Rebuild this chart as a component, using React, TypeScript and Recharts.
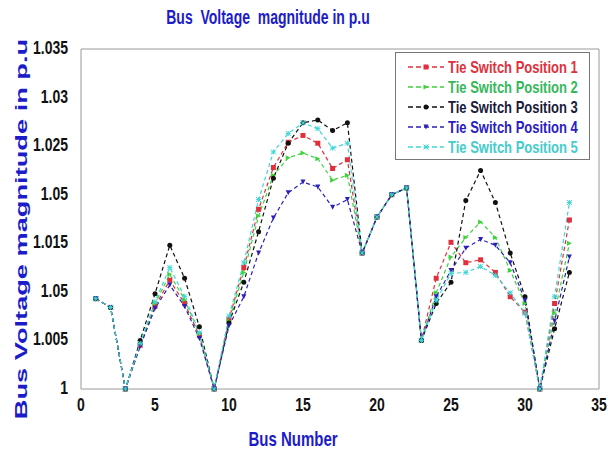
import { LineChart, Line, XAxis, YAxis, ReferenceArea } from 'recharts'

// bus numbers 1..33
const BUS = [
  1, 2, 3, 4, 5, 6, 7, 8, 9, 10, 11, 12, 13, 14, 15, 16, 17,
  18, 19, 20, 21, 22, 23, 24, 25, 26, 27, 28, 29, 30, 31, 32, 33,
]

const POS1 = [
  1.0093, 1.0084, 1.0, 1.0045, 1.0085, 1.0112, 1.0088, 1.0055, 1.0, 1.0072, 1.0125,
  1.0185, 1.0228, 1.0254, 1.0261, 1.0253, 1.0227, 1.0236, 1.014, 1.0177, 1.02, 1.0207,
  1.005, 1.0114, 1.0151, 1.013, 1.0133, 1.012, 1.0095, 1.0079, 1.0, 1.0088, 1.0174,
]
const POS2 = [
  1.0093, 1.0084, 1.0, 1.0046, 1.0088, 1.0118, 1.0092, 1.0057, 1.0, 1.007, 1.012,
  1.0178, 1.022, 1.0238, 1.0243, 1.0237, 1.0215, 1.022, 1.014, 1.0177, 1.02, 1.0207,
  1.005, 1.0099, 1.0136, 1.0156, 1.0172, 1.0156, 1.0122, 1.0088, 1.0, 1.0078, 1.015,
]
const POS3 = [
  1.0093, 1.0084, 1.0, 1.005, 1.0098, 1.0148, 1.0114, 1.0064, 1.0, 1.0068, 1.011,
  1.0162, 1.0217, 1.0253, 1.0274, 1.0277, 1.0266, 1.0274, 1.014, 1.0177, 1.02, 1.0207,
  1.005, 1.0088, 1.011, 1.0194, 1.0225, 1.0192, 1.014, 1.0095, 1.0, 1.0062, 1.012,
]
const POS4 = [
  1.0093, 1.0084, 1.0, 1.0044, 1.0083, 1.0107, 1.0085, 1.0052, 1.0, 1.0065, 1.0095,
  1.014, 1.0176, 1.0202, 1.0213, 1.0208, 1.0187, 1.0195, 1.014, 1.0177, 1.02, 1.0207,
  1.005, 1.0095, 1.0122, 1.0145, 1.0154, 1.0148, 1.013, 1.0091, 1.0, 1.007, 1.0136,
]
const POS5 = [
  1.0093, 1.0084, 1.0, 1.0047, 1.009, 1.0125, 1.0095, 1.0058, 1.0, 1.0075, 1.013,
  1.0195, 1.0244, 1.0263, 1.0274, 1.0268, 1.0248, 1.0253, 1.014, 1.0177, 1.02, 1.0207,
  1.005, 1.0091, 1.0119, 1.012, 1.0126, 1.0117, 1.0099, 1.0078, 1.0, 1.0095, 1.0192,
]

const X_TICKS = [0, 5, 10, 15, 20, 25, 30, 35]
const Y_TICKS = [1, 1.005, 1.01, 1.015, 1.02, 1.025, 1.03, 1.035]
// labels as printed on the original figure
const Y_TICK_LABELS = ['1', '1.005', '1.05', '1.015', '1.05', '1.025', '1.03', '1.035']

const SERIES = [
  { key: 'p1', name: 'Tie Switch Position 1', color: '#e0303c', text: '#e0303c', shape: 'square' },
  { key: 'p2', name: 'Tie Switch Position 2', color: '#3cd23c', text: '#34b85a', shape: 'right' },
  { key: 'p3', name: 'Tie Switch Position 3', color: '#111111', text: '#1a1a3a', shape: 'circle' },
  { key: 'p4', name: 'Tie Switch Position 4', color: '#2a20b8', text: '#2a20c0', shape: 'down' },
  { key: 'p5', name: 'Tie Switch Position 5', color: '#3ed6d6', text: '#44cccc', shape: 'star' },
]

const data = BUS.map((b, i) => ({
  bus: b,
  p1: POS1[i],
  p2: POS2[i],
  p3: POS3[i],
  p4: POS4[i],
  p5: POS5[i],
}))

const BLUE = '#1c1cc8'
const SANS = '"Liberation Sans", Arial, sans-serif'

function Marker({ cx, cy, shape, color }: { cx: number; cy: number; shape: string; color: string }) {
  const s = 2.5
  if (shape === 'square') return <rect x={cx - s} y={cy - s} width={s * 2} height={s * 2} fill={color} />
  if (shape === 'circle') return <circle cx={cx} cy={cy} r={s} fill={color} />
  if (shape === 'right')
    return <polygon points={`${cx - s},${cy - s} ${cx + s},${cy} ${cx - s},${cy + s}`} fill={color} />
  if (shape === 'down')
    return <polygon points={`${cx - s},${cy - s} ${cx + s},${cy - s} ${cx},${cy + s}`} fill={color} />
  return (
    <g stroke={color} strokeWidth={1}>
      <line x1={cx - s} y1={cy} x2={cx + s} y2={cy} />
      <line x1={cx} y1={cy - s} x2={cx} y2={cy + s} />
      <line x1={cx - s} y1={cy - s} x2={cx + s} y2={cy + s} />
      <line x1={cx - s} y1={cy + s} x2={cx + s} y2={cy - s} />
    </g>
  )
}

// tick text stretched vertically, like the source image
function XTick({ x, y, payload }: any) {
  return (
    <text transform={`translate(${x},${y + 14}) scale(1,1.35)`} textAnchor="middle" fill="#111"
      fontFamily={SANS} fontWeight="bold" fontSize={14}>
      {payload.value}
    </text>
  )
}

function YTick({ x, y, index }: any) {
  return (
    <text transform={`translate(${x - 5},${y + 5}) scale(1,1.35)`} textAnchor="end" fill="#111"
      fontFamily={SANS} fontWeight="bold" fontSize={14}>
      {Y_TICK_LABELS[index]}
    </text>
  )
}

function LegendBox() {
  return (
    <div
      style={{
        position: 'absolute',
        left: 395,
        top: 52,
        width: 195,
        height: 108,
        border: '1px solid #777',
        background: '#fff',
        boxSizing: 'border-box',
        paddingTop: 4,
      }}
    >
      {SERIES.map((s) => (
        <div key={s.key} style={{ display: 'flex', alignItems: 'center', height: 20 }}>
          <svg width={52} height={12}>
            <line x1={12} y1={6} x2={48} y2={6} stroke={s.color} strokeWidth={1.5} strokeDasharray="5 3" />
            <Marker cx={30} cy={6} shape={s.shape} color={s.color} />
          </svg>
          <span style={{ display: 'inline-block', transform: 'scaleY(1.25)', color: s.text, fontFamily: SANS, fontWeight: 'bold', fontSize: 13 }}>
            {s.name}
          </span>
        </div>
      ))}
    </div>
  )
}

const textBase = { position: 'absolute' as const, color: BLUE, fontFamily: SANS, fontWeight: 'bold' as const, whiteSpace: 'nowrap' as const }

export default function App() {
  return (
    <div style={{ position: 'absolute', left: 0, top: 0, width: 611, height: 457, background: '#fff' }}>
      <LineChart width={611} height={457} data={data} margin={{ top: 49, right: 12, bottom: 38, left: 0 }}>
        <ReferenceArea x1={0} x2={35} y1={1} y2={1.035} fill="none" stroke="#9a9a9a" strokeOpacity={1} ifOverflow="visible" />
        <XAxis
          dataKey="bus"
          type="number"
          domain={[0, 35]}
          ticks={X_TICKS}
          axisLine={false}
          tickLine={false}
          height={30}
          tick={<XTick />}
        />
        <YAxis
          type="number"
          domain={[1, 1.035]}
          ticks={Y_TICKS}
          width={81}
          axisLine={false}
          tickLine={false}
          tick={<YTick />}
        />
        {SERIES.map((s) => (
          <Line
            key={s.key}
            dataKey={s.key}
            name={s.name}
            type="linear"
            stroke={s.color}
            strokeWidth={1.2}
            strokeDasharray="4 3"
            isAnimationActive={false}
            dot={(p: any) => <Marker key={`${s.key}-${p.index}`} cx={p.cx} cy={p.cy} shape={s.shape} color={s.color} />}
            activeDot={false}
          />
        ))}
      </LineChart>
      <LegendBox />
      <div style={{ ...textBase, top: 9, left: 268, fontSize: 14, transform: 'translateX(-50%) scaleY(1.4)' }}>
        Bus&nbsp; Voltage&nbsp; magnitude in p.u
      </div>
      <div style={{ ...textBase, top: 430, left: 293, fontSize: 15, transform: 'translateX(-50%) scaleY(1.4)' }}>
        Bus Number
      </div>
      <div
        style={{
          ...textBase,
          left: 22,
          top: 229,
          fontSize: 17,
          transform: 'translate(-50%, -50%) rotate(-90deg) scaleX(1.6)',
        }}
      >
        Bus Voltage magnitude in p.u
      </div>
    </div>
  )
}
